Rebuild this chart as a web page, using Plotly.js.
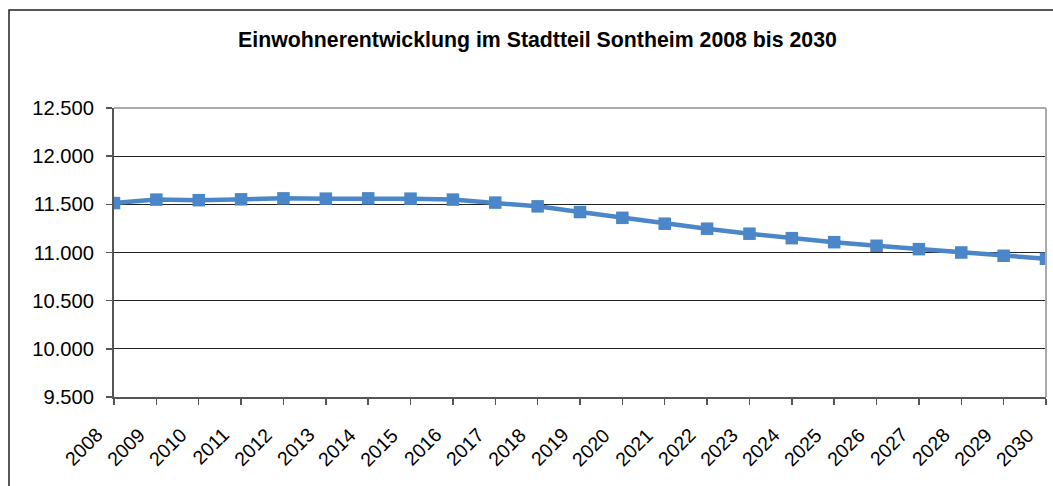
<!DOCTYPE html>
<html>
<head>
<meta charset="utf-8">
<script src="https://cdn.plot.ly/plotly-3.0.1.min.js"></script>
<style>html,body{margin:0;padding:0;background:#fff;}#chart{width:1053px;height:486px;}</style>
</head>
<body>
<div id="chart"></div>
<script>
var years = ["2008","2009","2010","2011","2012","2013","2014","2015","2016","2017","2018","2019","2020","2021","2022","2023","2024","2025","2026","2027","2028","2029","2030"];
var einwohner = [11513,11549,11543,11552,11562,11559,11562,11559,11549,11518,11479,11420,11360,11299,11247,11195,11149,11107,11070,11035,11000,10966,10935];
var yTicks = [9500,10000,10500,11000,11500,12000,12500];
var titleText = "Einwohnerentwicklung im Stadtteil Sontheim 2008 bis 2030";

var W = 1053, H = 486;
var L = 114, R = 7, T = 108, B = 89;
var pw = W - L - R, ph = H - T - B;
function px(x){ return (x - L) / pw; }
function py(y){ return (H - B - y) / ph; }

var trace = {
  x: years, y: einwohner, type: "scatter", mode: "lines+markers",
  line: {color: "#4a86c8", width: 4.5},
  marker: {symbol: "square", size: 12.5, color: "#4a86c8"},
  hoverinfo: "skip"
};

// category index positions on the category x axis
var yearLabels = years.map(function(yr, i){
  return {x: i, xref: "x", y: 0, yref: "paper", text: yr, showarrow: false,
          textangle: -45, xanchor: "right", yanchor: "top", xshift: -5, yshift: -24,
          font: {family: "Liberation Sans, Arial, sans-serif", size: 19.5, color: "#000"}};
});

var layout = {
  width: W, height: H,
  margin: {l: L, r: R, t: T, b: B, pad: 0},
  paper_bgcolor: "#fff", plot_bgcolor: "#fff",
  separators: ",.",
  font: {family: "Liberation Sans, Arial, sans-serif", color: "#000", size: 20.5},
  title: {text: "<b>" + titleText + "</b>", x: 537.5 / W, xanchor: "center", y: 1 - 40 / H, yanchor: "middle",
          font: {family: "Liberation Sans, Arial, sans-serif", size: 21.3, color: "#000"}},
  showlegend: false,
  xaxis: {type: "category", range: [0, years.length - 1], showticklabels: false,
          showgrid: false, zeroline: false, showline: true, linecolor: "#555", linewidth: 1.5,
          ticks: "outside", ticklen: 6, tickcolor: "#555", tickwidth: 1.5, fixedrange: true},
  yaxis: {range: [9500, 12500], tickvals: yTicks, tickformat: ",", showgrid: true, gridcolor: "#222", gridwidth: 1,
          zeroline: false, showline: true, linecolor: "#555", linewidth: 2,
          ticks: "outside", ticklen: 6, tickcolor: "#555", tickwidth: 1.5,
          ticklabelstandoff: 8,
          tickfont: {size: 20.2}, fixedrange: true},
  annotations: yearLabels,
  shapes: [
    {type: "rect", xref: "paper", yref: "paper", x0: px(9), x1: px(1070), y0: py(10), y1: py(500),
     line: {color: "#222", width: 1.5}, fillcolor: "rgba(0,0,0,0)", layer: "below"},
    {type: "line", xref: "paper", yref: "paper", x0: 0, x1: 1, y0: 1, y1: 1, line: {color: "#aaa", width: 2}},
    {type: "line", xref: "paper", yref: "paper", x0: 1, x1: 1, y0: 0, y1: 1, line: {color: "#aaa", width: 2}}
  ]
};

Plotly.newPlot("chart", [trace], layout, {displayModeBar: false, staticPlot: true});
</script>
</body>
</html>
